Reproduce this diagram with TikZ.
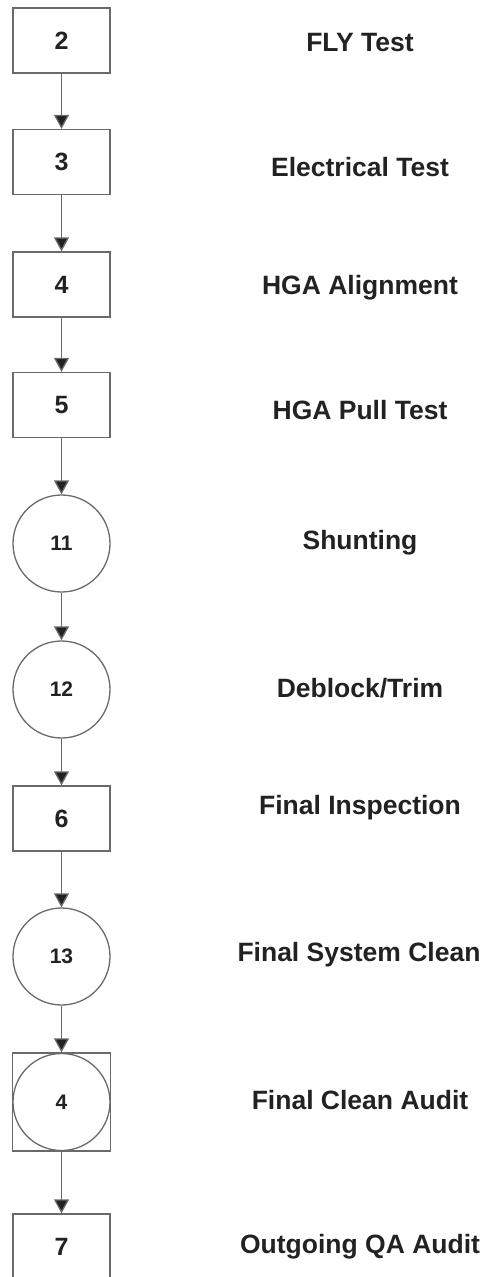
\documentclass[tikz,border=0pt]{standalone}
\usepackage{fontspec}
\setmainfont{Liberation Sans}
\usetikzlibrary{arrows.meta}
\definecolor{edge}{HTML}{6A6A6A}
\definecolor{ink}{HTML}{222222}
\tikzset{
  box/.style={draw=edge, line width=1.3pt, rectangle, minimum width=97pt, minimum height=65pt, inner sep=0pt, font=\fontsize{25}{25}\selectfont\bfseries, text=ink},
  circ/.style={draw=edge, line width=1.3pt, circle, minimum size=97pt, inner sep=0pt, font=\fontsize{21}{21}\selectfont\bfseries, text=ink},
  sq/.style={draw=edge, line width=1.3pt, rectangle, minimum width=98pt, minimum height=98pt, inner sep=0pt},
  lbl/.style={font=\fontsize{26.5}{26.5}\selectfont\bfseries, text=ink, anchor=center},
  arr/.style={draw=edge, line width=1.3pt, -{Triangle[length=14pt,width=15pt,fill=ink]}}
}
\begin{document}
\begin{tikzpicture}[x=1pt,y=-1pt]
\useasboundingbox (0,0) rectangle (486,1277);
\clip (0,0) rectangle (486,1277);
\node[box] (b2) at (61.5,40.5) {2};
\node[box] (b3) at (61.5,162) {3};
\node[box] (b4) at (61.5,284.5) {4};
\node[box] (b5) at (61.5,405) {5};
\node[circ] (c11) at (61.5,543.5) {11};
\node[circ] (c12) at (61.5,689.5) {12};
\node[box] (b6) at (61.5,818.5) {6};
\node[circ] (c13) at (61.5,956.5) {13};
\node[sq] (s4) at (61.5,1102) {};
\node[circ] (c4) at (61.5,1102) {4};
\node[box] (b7) at (61.5,1246.5) {7};

\node[lbl] (l2) at (360,43) {FLY Test};
\node[lbl] (l3) at (360,167) {Electrical Test};
\node[lbl] (l4) at (360,288) {HGA Alignment};
\node[lbl] (l5) at (360,410) {HGA Pull Test};
\node[lbl] (l11) at (360,543) {Shunting};
\node[lbl] (l12) at (360,688) {Deblock/Trim};
\node[lbl] (l6) at (360,808) {Final Inspection};
\node[lbl] (l13) at (359,955) {Final System Clean};
\node[lbl] (l4b) at (360,1100) {Final Clean Audit};
\node[lbl] (l7) at (360,1247) {Outgoing QA Audit};

\draw[arr] (b2.south) -- (b3.north);
\draw[arr] (b3.south) -- (b4.north);
\draw[arr] (b4.south) -- (b5.north);
\draw[arr] (b5.south) -- (c11.north);
\draw[arr] (c11.south) -- (c12.north);
\draw[arr] (c12.south) -- (b6.north);
\draw[arr] (b6.south) -- (c13.north);
\draw[arr] (c13.south) -- (s4.north);
\draw[arr] (s4.south) -- (b7.north);
\end{tikzpicture}
\end{document}
